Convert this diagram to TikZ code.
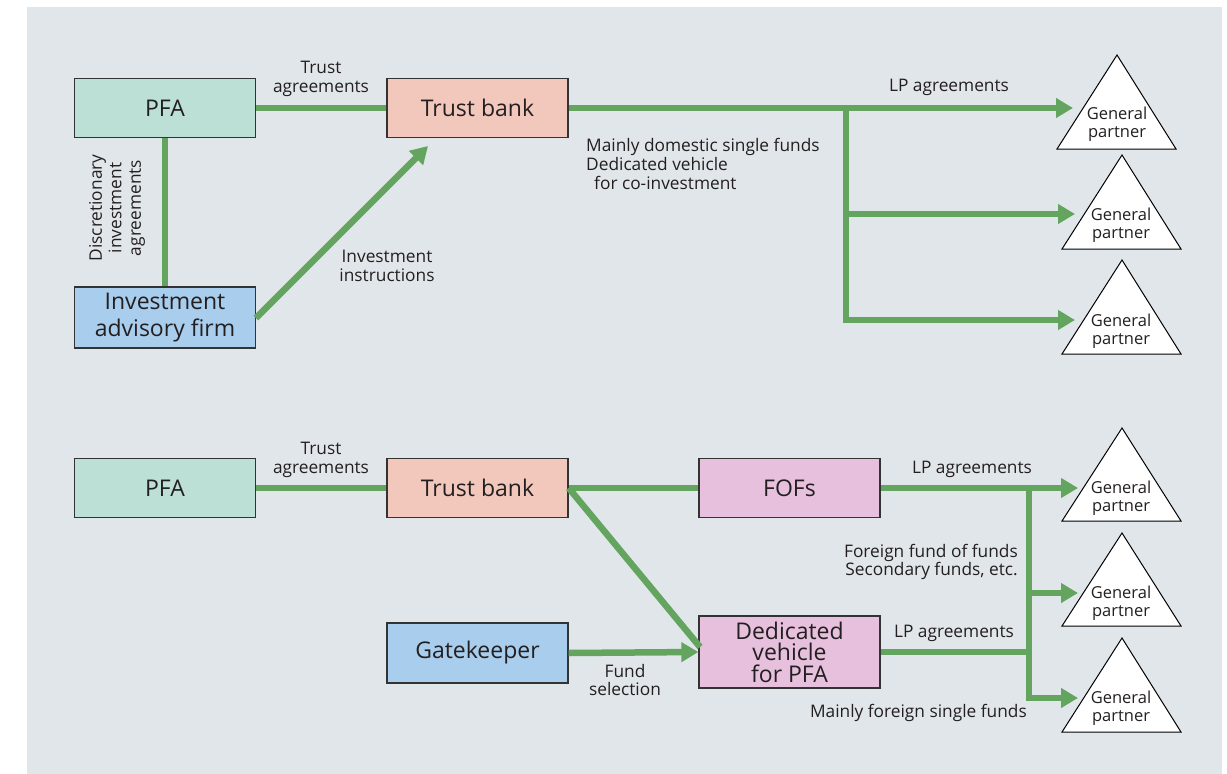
\documentclass[tikz,border=0pt]{standalone}
\usepackage{fontspec}
\setmainfont{Open Sans}
\usetikzlibrary{arrows.meta}
\definecolor{bgc}{HTML}{E1E6EA}
\definecolor{tealc}{HTML}{BCDFD6}
\definecolor{salmonc}{HTML}{F2C8BC}
\definecolor{bluec}{HTML}{A9CDEC}
\definecolor{pinkc}{HTML}{E6C0DC}
\definecolor{greenc}{HTML}{63A45F}
\definecolor{txtc}{HTML}{231F20}
\definecolor{edgec}{HTML}{333333}
\begin{document}
\begin{tikzpicture}[x=1pt,y=-1pt,
  box/.style={draw=edgec,line width=1.3pt,minimum width=181pt,minimum height=59pt,inner sep=0pt,align=center,text=txtc,font=\fontsize{23}{27}\selectfont},
  link/.style={draw=greenc,line width=6.5pt,line join=miter},
  arr/.style={link,-{Triangle[length=17pt,width=19pt]}},
  lbl/.style={text=txtc,font=\fontsize{17.3}{18.8}\selectfont,inner sep=0pt},
  gptxt/.style={text=txtc,align=center,font=\fontsize{16.5}{18.5}\selectfont,inner sep=0pt},
  tri/.style={draw=black,fill=white,line width=1pt,line join=miter}]
\useasboundingbox (0,0) rectangle (1227,774);
\fill[white] (0,0) rectangle (1227,774);
\fill[bgc] (27,7) rectangle (1222,774);

% ---------- top diagram ----------
\node[box,fill=tealc] (pfa1) at (165,108) {PFA};
\node[box,fill=salmonc] (tb1) at (477.5,108) {Trust bank};
\node[box,fill=bluec,minimum height=61pt] (iaf) at (165,317.5) {Investment\\advisory firm};

\draw[tri] (1117,55) -- (1176,149) -- (1057,149) -- cycle;
\draw[tri] (1122,155) -- (1181,249) -- (1062,249) -- cycle;
\draw[tri] (1122,260) -- (1181,354) -- (1062,354) -- cycle;
\node[gptxt] (gp1) at (1117,124) {General\\partner};
\node[gptxt] (gp2) at (1121,225) {General\\partner};
\node[gptxt] (gp3) at (1121,331) {General\\partner};

\coordinate (j1) at (846,108);
\coordinate (e1) at (1073,108);
\coordinate (e2) at (1075,214);
\coordinate (e3) at (1075,320);
\coordinate (ia) at (256,318);
\coordinate (itip) at (428,146);

\draw[link] (pfa1.east) -- (tb1.west);
\draw[link] (pfa1.south) -- (iaf.north);
\draw[arr] (ia) -- (itip);
\draw[arr] (tb1.east) -- (e1);
\draw[arr] (j1) |- (e3);
\draw[arr] (j1 |- e2) -- (e2);

\node[lbl,align=center] (ta1) at (321,79) {Trust\\agreements};
\node[lbl] (lp1) at (949,87) {LP agreements};
\node[lbl,align=left,anchor=north west] (md) at (586,138) {Mainly domestic single funds\\Dedicated vehicle\\\hspace*{8pt}for co-investment};
\node[lbl,align=center] (ii) at (387,266) {Investment\\instructions};
\node[lbl,align=center,rotate=90,font=\fontsize{17.3}{19.5}\selectfont] (dia) at (117,208) {Discretionary\\investment\\agreements};

% ---------- bottom diagram ----------
\node[box,fill=tealc] (pfa2) at (165,488) {PFA};
\node[box,fill=salmonc] (tb2) at (477.5,488) {Trust bank};
\node[box,fill=pinkc] (fofs) at (789.5,488) {FOFs};
\node[box,fill=bluec,minimum height=60pt] (gk) at (477.5,653) {Gatekeeper};
\node[box,fill=pinkc,minimum height=72pt,font=\fontsize{23}{21.5}\selectfont] (dv) at (789.5,652) {Dedicated\\vehicle\\for PFA};

\draw[tri] (1122,428) -- (1181,521) -- (1062,521) -- cycle;
\draw[tri] (1122,533) -- (1181,626) -- (1062,626) -- cycle;
\draw[tri] (1122,638) -- (1181,732) -- (1062,732) -- cycle;
\node[gptxt] (gp4) at (1121,498) {General\\partner};
\node[gptxt] (gp5) at (1121,603) {General\\partner};
\node[gptxt] (gp6) at (1121,708) {General\\partner};

\coordinate (j2) at (1029,488);
\coordinate (f1) at (1078,488);
\coordinate (f2) at (1078,593);
\coordinate (f3) at (1078,698);
\coordinate (dvd) at (700,647);

\draw[link] (pfa2.east) -- (tb2.west);
\draw[link] (tb2.east) -- (fofs.west);
\draw[link] (tb2.east) -- (dvd);
\draw[arr] (gk.east) -- (dv.west);
\draw[arr] (fofs.east) -- (f1);
\draw[arr] (j2) |- (f3);
\draw[arr] (j2 |- f2) -- (f2);
\draw[link] (dv.east) -- (dv.east -| j2);

\node[lbl,align=center] (ta2) at (321,460) {Trust\\agreements};
\node[lbl] (lp2) at (972,469) {LP agreements};
\node[lbl] (lp3) at (954,633) {LP agreements};
\node[lbl,align=right,anchor=east] (ff) at (1018,562) {Foreign fund of funds\\Secondary funds, etc.};
\node[lbl,anchor=east] (mf) at (1027,713) {Mainly foreign single funds};
\node[lbl,align=center] (fs) at (625,680) {Fund\\selection};
\end{tikzpicture}
\end{document}
